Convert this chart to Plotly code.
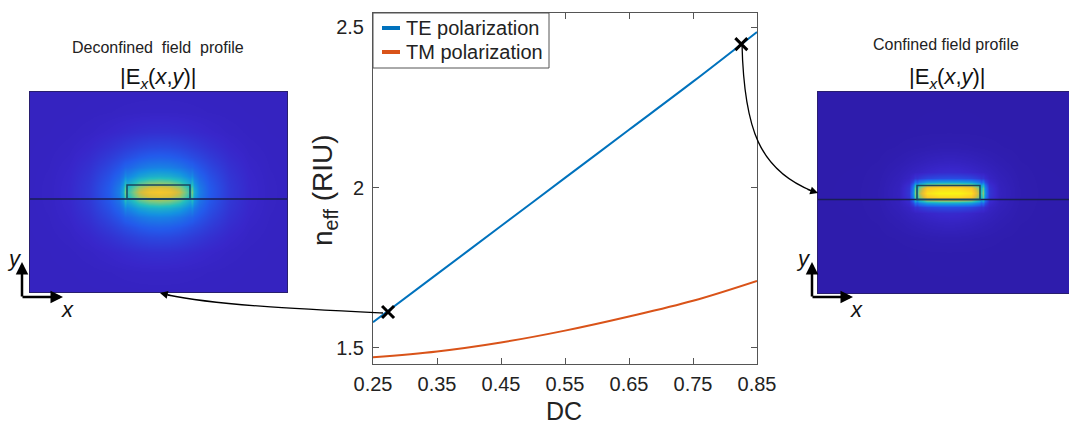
import plotly.graph_objects as go
import numpy as np

W, H = 1069, 425
FONT = "Liberation Sans, Arial, sans-serif"

# ---- data: effective index vs duty cycle ----
dc = [0.25, 0.35, 0.45, 0.55, 0.65, 0.75, 0.85]
te_neff = [1.58, 1.73, 1.88, 2.03, 2.18, 2.33, 2.485]
tm_neff = [1.471, 1.489, 1.517, 1.554, 1.598, 1.647, 1.709]
mark_dc = [0.2735, 0.8255]
mark_neff = [1.612, 2.447]
x_ticks = [0.25, 0.35, 0.45, 0.55, 0.65, 0.75, 0.85]
y_ticks = [1.5, 2.0, 2.5]
y_tick_text = ["1.5", "2", "2.5"]

# ---- field profiles (offsets in image pixels) ----
# deconfined (left): broad halo + core
L_x = [-130, -110, -90, -70, -50, -40, -35.5, -33.5, -31.5, -28, -20, -10, 0,
       10, 20, 28, 31.5, 33.5, 35.5, 40, 50, 70, 90, 110, 130]
L_halo_x = [0.005, 0.02, 0.07, 0.2, 0.44, 0.59, 0.66, 0.69, 0.72, 0.77, 0.88, 0.97, 1,
            0.97, 0.88, 0.77, 0.72, 0.69, 0.66, 0.59, 0.44, 0.2, 0.07, 0.02, 0.005]
L_core_x = [0, 0, 0, 0, 0.02, 0.12, 0.35, 0.75, 0.5, 0.6, 0.85, 0.97, 1,
            0.97, 0.85, 0.6, 0.5, 0.75, 0.35, 0.12, 0.02, 0, 0, 0, 0]
L_y = [-100, -80, -60, -45, -35, -25, -16, -10, -7, -4, 0, 4, 7, 10, 16, 25, 35, 45, 60, 80, 100]
L_halo_y = [0.005, 0.03, 0.13, 0.32, 0.5, 0.7, 0.86, 0.94, 0.97, 0.99, 1,
            0.99, 0.97, 0.94, 0.86, 0.7, 0.5, 0.32, 0.13, 0.03, 0.005]
L_core_y = [0, 0, 0, 0, 0, 0.05, 0.25, 0.55, 0.7, 0.88, 1, 0.88, 0.7, 0.55, 0.25, 0.05, 0, 0, 0, 0, 0]
L_base, L_halo, L_core = 0.04, 0.35, 0.45

# confined (right): tight core
R_x = [-135, -90, -70, -50, -40, -36, -34, -32, -30, -22, -10, 0,
       10, 22, 30, 32, 34, 36, 40, 50, 70, 90, 135]
R_halo_x = [0, 0.02, 0.08, 0.3, 0.48, 0.55, 0.58, 0.62, 0.65, 0.8, 0.95, 1,
            0.95, 0.8, 0.65, 0.62, 0.58, 0.55, 0.48, 0.3, 0.08, 0.02, 0]
R_core_x = [0, 0, 0, 0, 0.05, 0.3, 0.65, 0.5, 0.7, 0.95, 1, 1,
            1, 0.95, 0.7, 0.5, 0.65, 0.3, 0.05, 0, 0, 0, 0]
R_y = [-100, -60, -45, -30, -20, -14, -10, -7, -4, 0, 4, 7, 10, 14, 20, 30, 45, 60, 100]
R_halo_y = [0, 0.02, 0.1, 0.35, 0.6, 0.75, 0.85, 0.9, 0.97, 1, 0.97, 0.9, 0.85, 0.75, 0.6, 0.35, 0.1, 0.02, 0]
R_core_y = [0, 0, 0, 0, 0, 0.08, 0.35, 0.7, 0.9, 1, 0.9, 0.7, 0.35, 0.08, 0, 0, 0, 0, 0]
R_base, R_halo, R_core = 0.0, 0.12, 0.88

zL = L_base + L_halo * np.outer(L_halo_y, L_halo_x) + L_core * np.outer(L_core_y, L_core_x)
zR = R_base + R_halo * np.outer(R_halo_y, R_halo_x) + R_core * np.outer(R_core_y, R_core_x)

cscale = [
    [0.0, "rgb(46,28,172)"],
    [0.06, "rgb(56,38,202)"],
    [0.2, "rgb(35,90,235)"],
    [0.35, "rgb(20,145,225)"],
    [0.5, "rgb(35,190,190)"],
    [0.62, "rgb(120,200,130)"],
    [0.75, "rgb(215,190,60)"],
    [0.85, "rgb(250,200,40)"],
    [1.0, "rgb(250,245,20)"],
]

def X(px):
    return px / W

def Y(py):
    return 1 - py / H

TE_C = "#0072BD"
TM_C = "#D95319"

fig = go.Figure()
fig.add_trace(go.Scatter(x=dc, y=te_neff, mode="lines", line=dict(color=TE_C, width=2),
                         line_shape="spline", showlegend=False))
fig.add_trace(go.Scatter(x=dc, y=tm_neff, mode="lines", line=dict(color=TM_C, width=2),
                         line_shape="spline", showlegend=False))
fig.add_trace(go.Scatter(x=mark_dc, y=mark_neff, mode="markers",
                         marker=dict(symbol="x-thin", size=12, line=dict(color="black", width=3)),
                         showlegend=False))

fig.add_trace(go.Heatmap(x=L_x, y=L_y, z=zL, zmin=0, zmax=1, colorscale=cscale,
                         zsmooth="best", showscale=False, xaxis="x2", yaxis="y2", hoverinfo="skip"))
fig.add_trace(go.Heatmap(x=R_x, y=R_y, z=zR, zmin=0, zmax=1, colorscale=cscale,
                         zsmooth="best", showscale=False, xaxis="x3", yaxis="y3", hoverinfo="skip"))

axis_common = dict(showgrid=False, zeroline=False, showline=True, linecolor="#555",
                   linewidth=1, mirror="ticks", ticks="inside", ticklen=6, tickcolor="#555",
                   automargin=False,
                   tickfont=dict(family=FONT, size=20, color="#222"))

img_axis = dict(showgrid=False, zeroline=False, showticklabels=False, ticks="", automargin=False,
                showline=True, linecolor="rgb(40,30,110)", linewidth=1, mirror=True)

fig.update_layout(
    width=W, height=H, margin=dict(l=0, r=0, t=0, b=0, pad=0, autoexpand=False),
    paper_bgcolor="white", plot_bgcolor="white",
    xaxis=dict(domain=[X(373), X(757)], range=[0.25, 0.85], tickvals=x_ticks,
               ticktext=[f"{v:.2f}" for v in x_ticks], ticklabelstandoff=2, **axis_common),
    yaxis=dict(domain=[Y(364), Y(13)], range=[1.45, 2.544], tickvals=y_ticks,
               ticktext=y_tick_text, ticklabelstandoff=4, **axis_common),
    xaxis2=dict(domain=[X(30), X(287)], range=[-128.5, 128.5], anchor="y2", **img_axis),
    yaxis2=dict(domain=[Y(292), Y(92)], range=[-100, 100], anchor="x2", **img_axis),
    xaxis3=dict(domain=[X(818), 1.0], range=[-130.5, 120.5], anchor="y3", **img_axis),
    yaxis3=dict(domain=[Y(293), Y(92)], range=[-100, 100], anchor="x3", **img_axis),
)

shapes = []
# waveguide outlines in the field images
for xa, ya, xr in (("x2", "y2", (-128.5, 128.5)), ("x3", "y3", (-130.5, 120.5))):
    shapes.append(dict(type="line", xref=xa, yref=ya, x0=xr[0], x1=xr[1], y0=-7, y1=-7,
                       line=dict(color="rgb(25,30,85)", width=1.5)))
    shapes.append(dict(type="rect", xref=xa, yref=ya, x0=-31.5, x1=31.5, y0=-7, y1=7,
                       line=dict(color="rgb(25,70,95)", width=1.5)))

# legend box
shapes.append(dict(type="rect", xref="paper", yref="paper", x0=X(373), x1=X(549), y0=Y(68), y1=Y(13),
                   line=dict(color="#555", width=1), fillcolor="white", layer="above"))
shapes.append(dict(type="line", xref="paper", yref="paper", x0=X(382), x1=X(400), y0=Y(28), y1=Y(28),
                   line=dict(color=TE_C, width=4), layer="above"))
shapes.append(dict(type="line", xref="paper", yref="paper", x0=X(382), x1=X(400), y0=Y(52), y1=Y(52),
                   line=dict(color=TM_C, width=4), layer="above"))

# curved connector arrows
def path(pts):
    (x0, y0), (x1, y1), (x2, y2), (x3, y3) = pts
    return (f"M {X(x0)} {Y(y0)} C {X(x1)} {Y(y1)}, {X(x2)} {Y(y2)}, {X(x3)} {Y(y3)}")

shapes.append(dict(type="path", xref="paper", yref="paper",
                   path=path([(383, 313), (300, 309), (215, 305), (168, 295)]),
                   line=dict(color="black", width=1.3)))
shapes.append(dict(type="path", xref="paper", yref="paper",
                   path=path([(742, 44), (744, 130), (760, 170), (812, 191)]),
                   line=dict(color="black", width=1.3)))
fig.update_layout(shapes=shapes)

ann = []
ann.append(dict(x=X(160), y=Y(293), xref="paper", yref="paper", text="", showarrow=True,
                ax=12, ay=3, arrowhead=2, arrowsize=1.2, arrowwidth=1.3, arrowcolor="black"))
ann.append(dict(x=X(818), y=Y(193), xref="paper", yref="paper", text="", showarrow=True,
                ax=-12, ay=-4, arrowhead=2, arrowsize=1.2, arrowwidth=1.3, arrowcolor="black"))

# x-y direction arrows
for vx, hx in ((22, 63), (812, 853)):
    ann.append(dict(x=X(vx), y=Y(262), xref="paper", yref="paper", text="", showarrow=True,
                    ax=0, ay=36, arrowhead=2, arrowsize=1, arrowwidth=2.5, arrowcolor="black"))
    ann.append(dict(x=X(hx), y=Y(297), xref="paper", yref="paper", text="", showarrow=True,
                    ax=-42, ay=0, arrowhead=2, arrowsize=1, arrowwidth=2.5, arrowcolor="black"))

def txt(x, y, s, size, xanchor="center", angle=0, color="#111"):
    ann.append(dict(x=X(x), y=Y(y), xref="paper", yref="paper", text=s, showarrow=False,
                    xanchor=xanchor, yanchor="middle", textangle=angle,
                    font=dict(family=FONT, size=size, color=color)))

txt(14, 258, "<i>y</i>", 22)
txt(67, 309, "<i>x</i>", 22)
txt(803, 258, "<i>y</i>", 22)
txt(856, 309, "<i>x</i>", 22)

txt(158, 47, "Deconfined  field  profile", 16, color="#222")
txt(158, 78, "|E<sub><i>x</i></sub>(<i>x</i>,<i>y</i>)|", 22)
txt(946, 45, "Confined field profile", 16, color="#222")
txt(947, 78, "|E<sub><i>x</i></sub>(<i>x</i>,<i>y</i>)|", 22)

txt(404, 28, "TE polarization", 20, xanchor="left", color="#222")
txt(404, 52, "TM polarization", 20, xanchor="left", color="#222")

txt(564, 411, "DC", 25, color="#222")
txt(325, 190, "n<sub>eff</sub> (RIU)", 28, angle=-90, color="#222")

fig.update_layout(annotations=ann)

fig.write_html("out.html")
